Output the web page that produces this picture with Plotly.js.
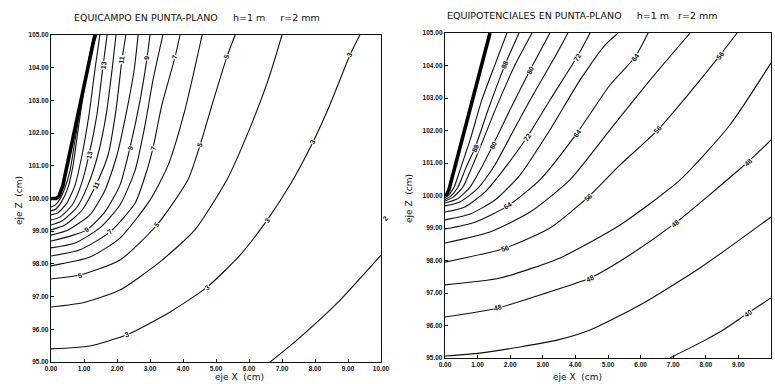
<!DOCTYPE html>
<html><head><meta charset="utf-8">
<script src="https://cdn.plot.ly/plotly-3.0.1.min.js"></script>
<style>html,body{margin:0;padding:0;background:#fff}#chart{width:775px;height:384px}</style>
</head><body><div id="chart"></div>
<script>
// ---------- axis ticks ----------
const xTicks = [0,1,2,3,4,5,6,7,8,9,10];
const zTicks = [95,96,97,98,99,100,101,102,103,104,105];

// ---------- left panel: EQUICAMPO (field contours) ----------
const fieldValues = [2,3,4,5,6,7,8,9,10,11,12,13,14,16,18];
const tipLeftX = [0, 0.15, 0.24, 0.30, 0.36, 1.33];
const tipLeftZ = [100.0, 100.0, 100.06, 100.2, 100.4, 105.0];

const f2X = [6.64, 7.45, 8.67, 10.0];
const f2Z = [95.0, 95.67, 96.80, 98.27];
const f3X = [0, 1.18, 2.30, 3.61, 4.73, 5.73, 6.55, 7.24, 7.94, 8.45, 9.06, 9.36];
const f3Z = [95.40, 95.49, 95.83, 96.53, 97.29, 98.27, 99.34, 100.41, 101.73, 102.86, 104.39, 105.0];
const f4X = [0, 1.03, 2.09, 3.30, 4.36, 5.33, 6.03, 6.58, 7.0];
const f4Z = [96.68, 96.83, 97.20, 98.06, 99.04, 100.57, 102.16, 103.62, 105.0];
const f5X = [0, 0.88, 2.09, 3.21, 4.15, 4.52, 4.88, 5.33, 5.58];
const f5Z = [97.54, 97.66, 98.12, 99.19, 100.57, 101.64, 102.86, 104.33, 105.0];
const f6X = [0, 1.18, 2.09, 3.0, 3.55, 4.06, 4.58];
const f6Z = [97.94, 98.21, 98.79, 99.95, 101.02, 102.71, 105.0];
const f7X = [0, 0.88, 1.79, 2.55, 2.91, 3.09, 3.36, 3.76, 3.91];
const f7Z = [98.24, 98.43, 98.98, 99.86, 100.87, 101.54, 102.86, 104.33, 105.0];
const f8X = [0, 0.73, 1.48, 2.09, 2.55, 2.85, 3.09, 3.39];
const f8Z = [98.49, 98.64, 99.10, 99.80, 100.87, 102.25, 103.62, 105.0];
const f9X = [0, 0.58, 1.09, 1.64, 2.09, 2.39, 2.70, 2.91, 3.0];
const f9Z = [98.70, 98.85, 99.04, 99.60, 100.41, 101.54, 103.01, 104.30, 105.0];
const f10X = [0, 0.52, 1.18, 1.64, 2.0, 2.30, 2.52, 2.64];
const f10Z = [98.88, 99.04, 99.50, 100.26, 101.33, 102.71, 103.93, 105.0];
const f11X = [0, 0.42, 0.94, 1.36, 1.73, 1.97, 2.15, 2.27];
const f11Z = [99.04, 99.19, 99.64, 100.41, 101.33, 102.71, 104.24, 105.0];
const f12X = [0, 0.33, 0.79, 1.12, 1.42, 1.67, 1.85, 1.97];
const f12Z = [99.19, 99.31, 99.74, 100.41, 101.33, 102.55, 103.93, 105.0];
const f13X = [0, 0.27, 0.64, 0.91, 1.15, 1.39, 1.58, 1.70];
const f13Z = [99.34, 99.43, 99.80, 100.41, 101.33, 102.55, 104.08, 105.0];
const f14X = [0, 0.21, 0.48, 0.73, 0.94, 1.15, 1.33, 1.48];
const f14Z = [99.50, 99.56, 99.86, 100.41, 101.33, 102.55, 103.93, 105.0];
const f16X = [0, 0.15, 0.33, 0.52, 0.67, 0.82, 1.0, 1.18, 1.39];
const f16Z = [99.62, 99.68, 99.92, 100.35, 101.02, 102.09, 103.32, 104.39, 105.0];
const f18X = [0, 0.12, 0.27, 0.42, 0.58, 0.73, 0.88, 1.06, 1.27, 1.36];
const f18Z = [99.74, 99.79, 99.98, 100.32, 100.87, 101.79, 102.71, 103.78, 104.85, 105.0];

// label positions (indices of points along each labelled line)
const f3LabelAt = [2, 4, 6, 8, 10];
const f5LabelAt = [1, 3, 5, 7];
const f7LabelAt = [2, 5, 7];
const f9LabelAt = [2, 5, 7];
const f11LabelAt = [3, 6];
const f13LabelAt = [4, 6];
const f2EdgeLabelZ = 99.4;

// ---------- right panel: EQUIPOTENCIALES ----------
const potValues = [40,44,48,52,56,60,64,68,72,76,80,84,88,92];
const tipRightX = [0, 0.06, 0.12, 1.38];
const tipRightZ = [99.98, 100.05, 100.17, 105.0];

const p40X = [6.90, 7.98, 8.53, 9.29, 10.0];
const p40Z = [95.0, 95.55, 95.86, 96.38, 96.85];
const p44X = [0, 1.07, 2.30, 3.44, 4.45, 5.98, 7.82, 10.0];
const p44Z = [95.06, 95.15, 95.34, 95.55, 95.86, 96.63, 97.77, 99.34];
const p48X = [0, 1.63, 2.91, 4.45, 5.67, 7.06, 9.29, 10.0];
const p48Z = [96.26, 96.54, 96.94, 97.46, 98.17, 99.15, 101.03, 101.71];
const p52X = [0, 1.69, 3.53, 5.37, 7.21, 8.74, 10.0];
const p52Z = [97.25, 97.46, 98.08, 99.09, 100.48, 102.17, 104.08];
const p56X = [0, 1.84, 3.22, 4.39, 5.37, 6.53, 7.52, 8.44, 8.96];
const p56Z = [97.95, 98.38, 99.0, 99.95, 100.94, 102.02, 103.18, 104.32, 105.0];
const p60X = [0, 1.38, 2.61, 3.83, 5.06, 6.29, 7.52];
const p60Z = [98.54, 98.88, 99.49, 100.48, 102.02, 103.55, 105.0];
const p64X = [0, 0.92, 1.93, 2.91, 4.05, 5.06, 5.83, 6.23];
const p64Z = [98.97, 99.18, 99.68, 100.48, 101.92, 103.40, 104.26, 105.0];
const p68X = [0, 0.77, 1.53, 2.30, 3.22, 4.14, 4.91, 5.31];
const p68Z = [99.25, 99.43, 99.86, 100.63, 102.02, 103.55, 104.63, 105.0];
const p72X = [0, 0.61, 1.23, 1.84, 2.52, 3.22, 4.05, 4.45];
const p72Z = [99.49, 99.65, 100.11, 100.85, 101.80, 102.94, 104.26, 105.0];
const p76X = [0, 0.46, 1.01, 1.53, 2.06, 2.61, 3.37, 3.77];
const p76Z = [99.68, 99.80, 100.23, 100.94, 101.92, 102.94, 104.26, 105.0];
const p80X = [0, 0.37, 0.77, 1.13, 1.47, 1.99, 2.61, 3.22];
const p80Z = [99.77, 99.89, 100.26, 100.88, 101.55, 102.63, 103.86, 105.0];
const p84X = [0, 0.25, 0.55, 0.83, 1.17, 1.60, 2.15, 2.67];
const p84Z = [99.83, 99.95, 100.26, 100.88, 101.71, 102.78, 104.02, 105.0];
const p88X = [0, 0.18, 0.40, 0.64, 0.92, 1.32, 1.84, 2.27];
const p88Z = [99.88, 99.98, 100.26, 100.85, 101.46, 102.63, 104.02, 105.0];
const p92X = [0, 0.12, 0.28, 0.46, 0.77, 1.13, 1.53, 1.90];
const p92Z = [99.92, 100.02, 100.26, 100.78, 101.71, 102.94, 104.02, 105.0];

const p40LabelAt = [3];
const p48LabelAt = [1, 3, 5, 6];
const p56LabelAt = [1, 3, 5, 7];
const p64LabelAt = [2, 4, 6];
const p72LabelAt = [4, 6];
const p80LabelAt = [4, 6];
const p88LabelAt = [4, 6];

// ---------- assemble ----------
const fieldLines = [[f2X,f2Z],[f3X,f3Z],[f4X,f4Z],[f5X,f5Z],[f6X,f6Z],[f7X,f7Z],[f8X,f8Z],[f9X,f9Z],
  [f10X,f10Z],[f11X,f11Z],[f12X,f12Z],[f13X,f13Z],[f14X,f14Z],[f16X,f16Z],[f18X,f18Z]];
const fieldLabels = {3:f3LabelAt,5:f5LabelAt,7:f7LabelAt,9:f9LabelAt,11:f11LabelAt,13:f13LabelAt};
const potLines = [[p40X,p40Z],[p44X,p44Z],[p48X,p48Z],[p52X,p52Z],[p56X,p56Z],[p60X,p60Z],[p64X,p64Z],
  [p68X,p68Z],[p72X,p72Z],[p76X,p76Z],[p80X,p80Z],[p84X,p84Z],[p88X,p88Z],[p92X,p92Z]];
const potLabels = {40:p40LabelAt,48:p48LabelAt,56:p56LabelAt,64:p64LabelAt,72:p72LabelAt,80:p80LabelAt,88:p88LabelAt};

const W = 775, H = 384;
const xDomL = [51/W, 381/W], yDomL = [(H-362)/H, (H-35)/H];
const xDomR = [445/W, 771/W], yDomR = [(H-358)/H, (H-33)/H];

const traces = [];
const annotations = [];
const lineStyle = {color:'#111', width:1.1, shape:'spline', smoothing:0.6};
const labelFont = {family:'Liberation Sans', size:7, color:'#111', weight:'bold'};

function addPanel(lines, values, labels, tipX, tipZ, xa, ya, xDom, yDom){
  const ppx = W*(xDom[1]-xDom[0])/10, ppy = H*(yDom[1]-yDom[0])/10;
  lines.forEach((ln, i) => {
    traces.push({type:'scatter', mode:'lines', x:ln[0], y:ln[1], xaxis:xa, yaxis:ya,
      line:lineStyle, hoverinfo:'skip', showlegend:false, name:String(values[i])});
    const idxs = labels[values[i]];
    if (idxs) idxs.forEach(k => {
      const a = Math.max(0,k-1), b = Math.min(ln[0].length-1,k+1);
      const dx = (ln[0][b]-ln[0][a])*ppx, dy = (ln[1][b]-ln[1][a])*ppy;
      let ang = -Math.atan2(dy, dx)*180/Math.PI;
      if (ang < -90) ang += 180; if (ang > 90) ang -= 180;
      annotations.push({x:ln[0][k], y:ln[1][k], xref:xa, yref:ya, text:String(values[i]),
        showarrow:false, textangle:ang, bgcolor:'#ffffff', borderpad:0, font:labelFont});
    });
  });
  traces.push({type:'scatter', mode:'lines', x:tipX, y:tipZ, xaxis:xa, yaxis:ya,
    line:{color:'#000', width:3.6}, hoverinfo:'skip', showlegend:false, name:'punta'});
}
addPanel(fieldLines, fieldValues, fieldLabels, tipLeftX, tipLeftZ, 'x', 'y', xDomL, yDomL);
addPanel(potLines, potValues, potLabels, tipRightX, tipRightZ, 'x2', 'y2', xDomR, yDomR);

// label of the outermost field line, written just outside the right frame
annotations.push({xref:'paper', yref:'paper', x:xDomL[1] + 4/W,
  y:yDomL[0] + (f2EdgeLabelZ-95)/10*(yDomL[1]-yDomL[0]), text:String(fieldValues[0]),
  showarrow:false, textangle:-50, font:labelFont});

const nb = '\u00a0';
const titleFont = {family:'DejaVu Sans', size:9.5, color:'#111'};
annotations.push({xref:'paper', yref:'paper', x:72/W, y:1-17/H, xanchor:'left', yanchor:'middle', showarrow:false,
  text:'EQUICAMPO EN PUNTA-PLANO'+nb.repeat(5)+'h=1 m'+nb.repeat(5)+'r=2 mm', font:titleFont});
annotations.push({xref:'paper', yref:'paper', x:445/W, y:1-16/H, xanchor:'left', yanchor:'middle', showarrow:false,
  text:'EQUIPOTENCIALES EN PUNTA-PLANO'+nb.repeat(5)+'h=1 m'+nb.repeat(3)+'r=2 mm', font:titleFont});
const axTitleFont = {family:'DejaVu Sans', size:9, color:'#111'};
annotations.push({xref:'paper', yref:'paper', x:213/W, y:1-377/H, yanchor:'middle', showarrow:false, text:'eje X'+nb+nb+'(cm)', font:axTitleFont});
annotations.push({xref:'paper', yref:'paper', x:604/W, y:1-377/H, yanchor:'middle', showarrow:false, text:'eje X'+nb+nb+'(cm)', font:axTitleFont});
annotations.push({xref:'paper', yref:'paper', x:12/W, y:1-201/H, showarrow:false, textangle:-90, text:'eje Z'+nb+nb+'(cm)', font:axTitleFont});
annotations.push({xref:'paper', yref:'paper', x:409/W, y:1-199/H, showarrow:false, textangle:-90, text:'eje Z'+nb+nb+'(cm)', font:axTitleFont});

const tickFont = {family:'Liberation Sans', size:6.5, color:'#111', weight:'bold'};
function xAx(dom, anchor){ return {domain:dom, anchor:anchor, range:[0,10], tickvals:xTicks, tickformat:'.2f',
  showline:true, mirror:true, linecolor:'#111', linewidth:1.2, ticks:'inside', ticklen:3, tickcolor:'#111',
  showgrid:false, zeroline:false, tickfont:tickFont, fixedrange:true}; }
function yAx(dom, anchor){ return {domain:dom, anchor:anchor, range:[95,105], tickvals:zTicks, tickformat:'.2f',
  showline:true, mirror:true, linecolor:'#111', linewidth:1.2, ticks:'inside', ticklen:3, tickcolor:'#111',
  showgrid:false, zeroline:false, tickfont:tickFont, fixedrange:true}; }

const layout = {width:W, height:H, margin:{l:0,r:0,t:0,b:0}, paper_bgcolor:'#fff', plot_bgcolor:'#fff',
  showlegend:false, xaxis:xAx(xDomL,'y'), yaxis:yAx(yDomL,'x'), xaxis2:xAx(xDomR,'y2'), yaxis2:yAx(yDomR,'x2'),
  annotations:annotations};
Plotly.newPlot('chart', traces, layout, {staticPlot:true, displayModeBar:false});
</script></body></html>
